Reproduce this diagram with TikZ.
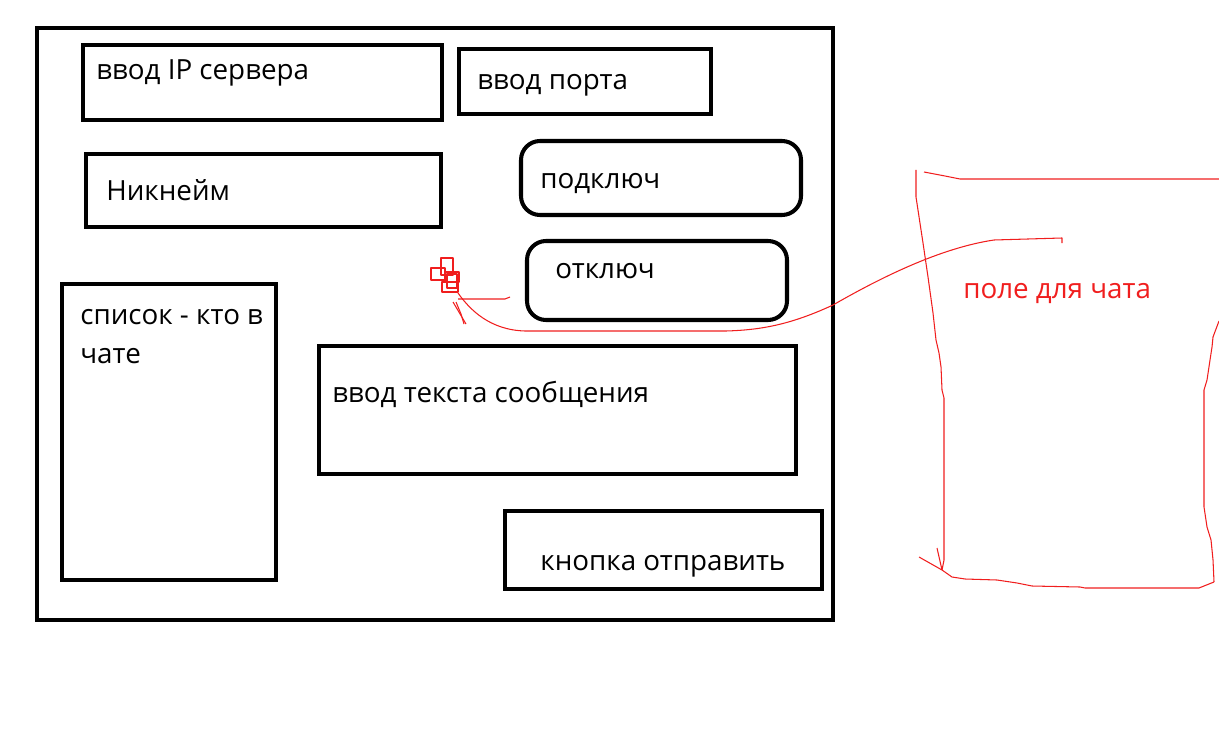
\documentclass[tikz,border=0pt]{standalone}
\usepackage{fontspec}
\setmainfont{Open Sans}
\usepackage{xcolor}
\usetikzlibrary{fit}
\definecolor{penRed}{HTML}{F01E1E}

\begin{document}
\begin{tikzpicture}[x=0.02cm, y=-0.02cm,
  font=\fontsize{15.8}{22}\selectfont,
  box/.style={draw, line width=2.3pt, inner sep=0pt},
  btn/.style={box, rounded corners=0.38cm},
  lbl/.style={anchor=base west, inner sep=0pt},
  pen/.style={penRed, line width=0.6pt, line join=round}]
  \useasboundingbox (0,0) rectangle (1219,753);
% --- window frame ---
  \node[box, fit={(37,28) (833,620)}] (win) {};
% --- fields and buttons ---
  \node[box, fit={(83,45) (442,120)}] (ip) {};
  \node[lbl] (iptxt) at (96,80) {ввод IP сервера};
  \node[box, fit={(459,49) (711,114)}] (port) {};
  \node[lbl] (porttxt) at (477,90) {ввод порта};
  \node[box, fit={(86,154) (441,227)}] (nick) {};
  \node[lbl] (nicktxt) at (106,200) {Никнейм};
  \node[btn, fit={(521,141) (801,215)}] (conn) {};
  \node[lbl] (conntxt) at (540,189) {подключ};
  \node[btn, fit={(527,241) (787,320)}] (disc) {};
  \node[lbl] (disctxt) at (555,278) {отключ};
  \node[box, fit={(62,284) (276,580)}] (users) {};
  \node[lbl] (userstxt) at (80,324) {список - кто в};
  \node[lbl] (userstxt2) at (80,363) {чате};
  \node[box, fit={(319,346) (796,474)}] (msg) {};
  \node[lbl] (msgtxt) at (332,402) {ввод текста сообщения};
  \node[box, fit={(505,511) (822,589)}] (send) {};
  \node[lbl] (sendtxt) at (540,570) {кнопка отправить};
% --- chat field, drawn by hand ---
  \coordinate (ch1) at (944,560);
  \draw[pen] (916,170) -- (916,197) -- (923,243) -- (928,277) -- (933,313) -- (936,340)
    -- (939,353) -- (941,367) -- (942,390) -- (944,398) -- (ch1) -- (942,570);
  \draw[pen] (937,548) -- (942,570) -- (919,557);
  \draw[pen] (924,172) -- (945,176) -- (960,179) -- (1219,179);
  \draw[pen] (1219,321) -- (1213,337) -- (1212,347) -- (1210,360) -- (1207,380) -- (1204,390)
    -- (1204,507) -- (1207,527) -- (1211,540) -- (1213,560) -- (1214,582);
  \draw[pen] (942,570) -- (952,577) -- (965,579) -- (997,580) -- (1017,583) -- (1032,586)
    -- (1080,587) -- (1085,588) -- (1199,588) -- (1214,582);
  \node[lbl, text=penRed] (chat) at (963,298) {поле для чата};
% --- pointer to the window ---
  \coordinate (tip) at (458,293);
  \draw[pen] (1062,243) -- (1062,238) -- (994,240) .. controls (940,248) and (880,278) .. (833,305)
    .. controls (790,325) and (760,330) .. (726,331) -- (525,331)
    .. controls (490,330) and (470,310) .. (tip);
  \draw[pen] (458,299) -- (505,299) -- (510,297);
  \draw[pen] (453,302) -- (466,324);
  \draw[pen] (456,302) -- (461,314) -- (464,324);
  % scribble
  \draw[pen] (431,268) rectangle (445,280);
  \draw[pen] (441,258) rectangle (453,275);
  \draw[pen] (445,272) rectangle (459,282);
  \draw[pen] (447,274) rectangle (457,288);
  \draw[pen] (442,282) rectangle (458,292);
\end{tikzpicture}
\end{document}
